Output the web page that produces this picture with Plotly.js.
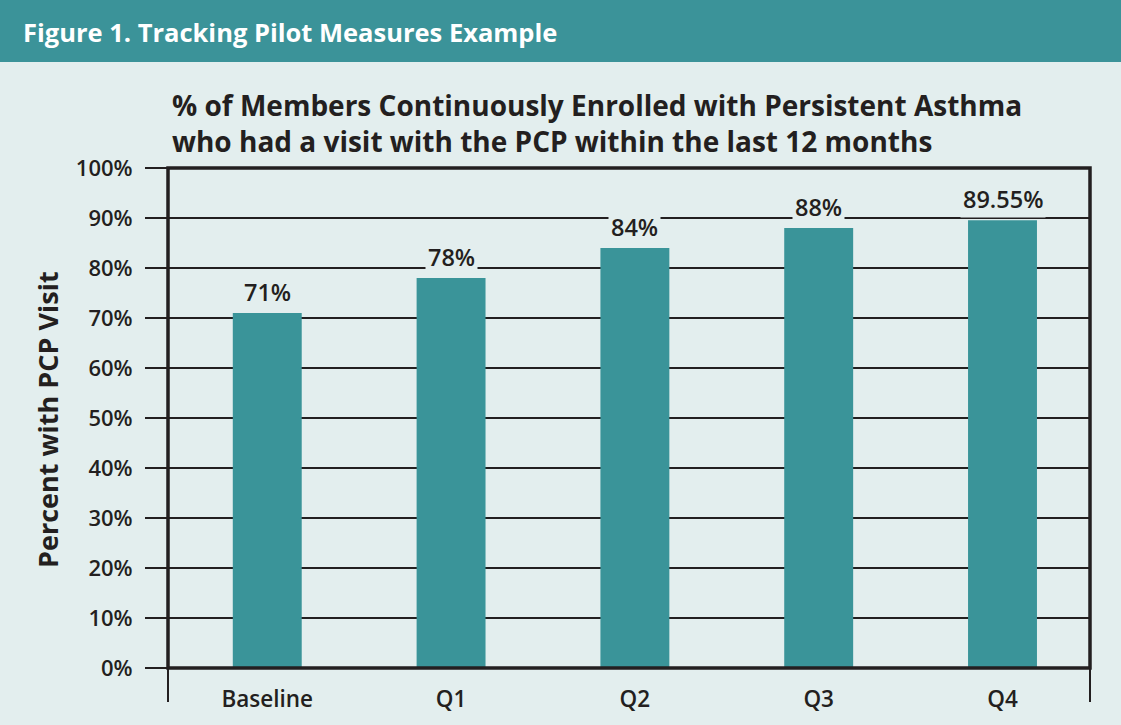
<!DOCTYPE html>
<html>
<head>
<meta charset="utf-8">
<script src="https://cdn.plot.ly/plotly-3.0.1.min.js"></script>
<style>html,body{margin:0;padding:0;background:#e3eeee;}#chart{width:1121px;height:725px;}</style>
</head>
<body>
<div id="chart"></div>
<script>
const categories = ["Baseline", "Q1", "Q2", "Q3", "Q4"];
const values = [71, 78, 84, 88, 89.55];
const valueLabels = ["71%", "78%", "84%", "88%", "89.55%"];
const yTickValues = [0, 10, 20, 30, 40, 50, 60, 70, 80, 90, 100];
const yTickLabels = ["0%", "10%", "20%", "30%", "40%", "50%", "60%", "70%", "80%", "90%", "100%"];
const headerText = "Figure 1. Tracking Pilot Measures Example";
const chartTitle = "% of Members Continuously Enrolled with Persistent Asthma<br>who had a visit with the PCP within the last 12 months";
const yTitle = "Percent with PCP Visit";

const BG = "#e3eeee";
const TEAL = "#3a9499";
const INK = "#231f20";
const FONT = "'Open Sans', Lato, sans-serif";

const W = 1121, H = 725;
const L = 168, R = 31, T = 168, B = 57;
const pw = W - L - R, ph = H - T - B;
const px = x => (x - L) / pw;
const py = y => (H - B - y) / ph;

const trace = {
  type: "bar",
  x: categories,
  y: values,
  width: 0.375,
  marker: { color: TEAL, line: { width: 0 } },
  hoverinfo: "skip"
};

const annotations = categories.map((c, i) => ({
  x: c, y: values[i], xref: "x", yref: "y",
  text: valueLabels[i], showarrow: false,
  yanchor: "bottom", yshift: 2,
  bgcolor: BG, borderpad: 2,
  font: { family: FONT, size: 23.5, color: INK, weight: 600 }
}));

annotations.push({
  xref: "paper", yref: "paper", x: px(21), y: py(32),
  xanchor: "left", yanchor: "middle", showarrow: false,
  text: headerText,
  font: { family: FONT, size: 25.5, color: "#ffffff", weight: 700 }
});
annotations.push({
  xref: "paper", yref: "paper", x: px(170), y: py(84),
  xanchor: "left", yanchor: "top", align: "left", showarrow: false,
  text: chartTitle,
  font: { family: FONT, size: 28, color: INK, weight: 700 }
});
annotations.push({
  xref: "paper", yref: "paper", x: px(47), y: py(420),
  xanchor: "center", yanchor: "middle", textangle: -90, showarrow: false,
  text: yTitle,
  font: { family: FONT, size: 27, color: INK, weight: 700 }
});

const shapes = [
  { type: "rect", xref: "paper", yref: "paper", x0: px(0), x1: px(W), y0: py(62), y1: py(0),
    fillcolor: "#3b9399", line: { width: 0 }, layer: "below" },
  { type: "line", xref: "paper", yref: "paper", x0: 0, x1: 0, y0: py(702), y1: 0,
    line: { color: INK, width: 2 } },
  { type: "line", xref: "paper", yref: "paper", x0: 1, x1: 1, y0: py(702), y1: 0,
    line: { color: INK, width: 2 } },
  { type: "rect", xref: "paper", yref: "paper", x0: 0, x1: 1, y0: 0, y1: 1,
    fillcolor: "rgba(0,0,0,0)", line: { color: INK, width: 3.5 }, layer: "above" }
];

const layout = {
  width: W, height: H,
  margin: { l: L, r: R, t: T, b: B, pad: 0 },
  paper_bgcolor: BG, plot_bgcolor: BG,
  showlegend: false,
  xaxis: {
    type: "category",
    range: [-0.54, 4.476],
    showgrid: false, zeroline: false, showline: false,
    ticks: "",
    tickfont: { family: FONT, size: 22.5, color: INK, weight: 600 },
    ticklabelstandoff: 15,
    fixedrange: true
  },
  yaxis: {
    range: [0, 100],
    tickvals: yTickValues,
    ticktext: yTickLabels,
    showgrid: true, gridcolor: INK, gridwidth: 2,
    zeroline: false, showline: false,
    ticks: "outside", ticklen: 22, tickwidth: 2, tickcolor: INK,
    tickfont: { family: FONT, size: 22, color: INK, weight: 600 },
    ticklabelstandoff: 8,
    fixedrange: true
  },
  annotations: annotations,
  shapes: shapes
};

Plotly.newPlot("chart", [trace], layout, { displayModeBar: false, staticPlot: true });
</script>
</body>
</html>
